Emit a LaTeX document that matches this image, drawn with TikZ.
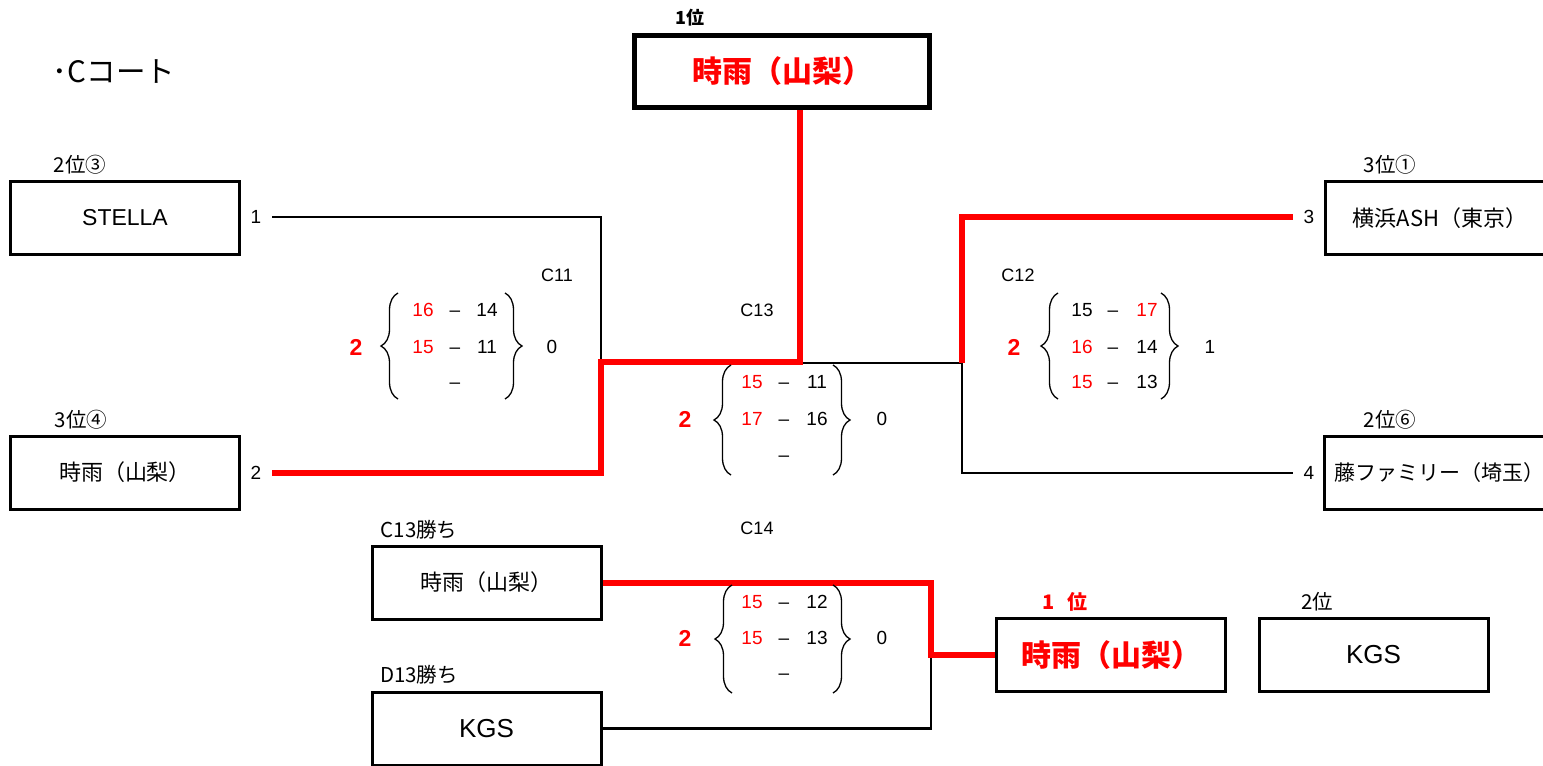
\documentclass[tikz,border=0pt]{standalone}
\usepackage{fontspec}
\setmainfont{Liberation Sans}
\newfontfamily\jpfont{Noto Sans CJK JP}
\usetikzlibrary{decorations.pathreplacing}
\newcommand{\dsh}{\vphantom{0}–}
\begin{document}
\begin{tikzpicture}[x=1pt,y=-1pt,
  team/.style={draw, line width=3pt, minimum width=229pt, minimum height=73pt, inner sep=0pt, font=\jpfont\fontsize{22}{25}\selectfont},
  bigwin/.style={team, text=red, font=\jpfont\bfseries\fontsize{30}{34}\selectfont},
  lbl/.style={inner sep=0pt, font=\jpfont\fontsize{20.5}{23}\selectfont},
  mlabel/.style={inner sep=0pt, font=\fontsize{18}{21}\selectfont},
  num/.style={inner sep=0pt, font=\fontsize{19}{22}\selectfont},
  rnum/.style={num, text=red},
  seed/.style={num, minimum width=32pt},
  wins/.style={inner sep=0pt, text=red, font=\bfseries\fontsize{23}{26}\selectfont},
  link/.style={line width=2.5pt},
  win/.style={line width=6pt, draw=red},
  brc/.style={decorate, decoration={brace, amplitude=17pt}, line width=1.3pt},
]
\useasboundingbox (0,0) rectangle (1543,766);

% title
\node[inner sep=0pt, font=\jpfont\fontsize{29.5}{32}\selectfont] (title) at (114,72) {･Cコート};

% top winner
\node[lbl, font=\jpfont\bfseries\fontsize{18}{21}\selectfont] (toplbl) at (690,18) {1位};
\node[bigwin, line width=5pt, minimum width=295pt, minimum height=72pt] (top) at (782,71.5) {時雨（山梨）};

% left teams
\node[lbl] (l1) at (80,165) {2位③};
\node[team, font=\normalfont\fontsize{23}{26}\selectfont] (stella) at (125,218) {STELLA};
\node[lbl] (l2) at (81,420) {3位④};
\node[team] (shigL) at (125,472.5) {時雨（山梨）};
\node[seed] (s1) at (256,217) {1};
\node[seed] (s2) at (256,473) {2};

% right teams
\node[lbl] (l3) at (1390,165) {3位①};
\node[team] (yoko) at (1440,218) {横浜ASH（東京）};
\node[lbl] (l4) at (1390,420) {2位⑥};
\node[team, font=\jpfont\fontsize{21}{24}\selectfont] (fuji) at (1439,472.5) {藤ファミリー（埼玉）};
\node[seed] (s3) at (1309,217) {3};
\node[seed] (s4) at (1309,473) {4};

% bottom teams
\node[lbl] (l5) at (419,530) {C13勝ち};
\node[team] (c13w) at (486.5,582.5) {時雨（山梨）};
\node[lbl] (l6) at (419,675) {D13勝ち};
\node[team, font=\normalfont\fontsize{26}{29}\selectfont] (kgs) at (486.5,728.5) {KGS};

% final ranking
\node[lbl, text=red, font=\jpfont\bfseries\fontsize{20}{23}\selectfont] (l7) at (1065,602) {1\hspace{0.6em}位};
\node[bigwin] (final) at (1111,655) {時雨（山梨）};
\node[lbl] (l8) at (1317,602) {2位};
\node[team, font=\normalfont\fontsize{26}{29}\selectfont] (second) at (1373.5,655) {KGS};

% junctions
\coordinate (j11) at (601,362);
\coordinate (j13) at (800,363);
\coordinate (j12) at (962,363);
\coordinate (j14) at (931,655);

% black connectors
\draw[link] (s1.east) -| (j11);
\draw[link] (j13) -- (j12);
\draw[link] (j12) |- (s4.west);
\draw[link] (kgs.east) -| (j14);

% red connectors
\draw[win] (s2.east) -| (j11) -| (top.south -| j13);
\draw[win] (j12) |- (s3.west);
\draw[win] (c13w.east) -| (j14) -- (final.west);

% C11
\node[mlabel] (c11) at (557,275) {C11};
\node[wins] (c11w) at (356,347) {2};
\node[num] (c11l) at (552,347) {0};
\node[rnum] (c11a1) at (423,310) {16}; \node[num] (c11d1) at (455,310) {\dsh}; \node[num] (c11b1) at (487,310) {14};
\node[rnum] (c11a2) at (423,347) {15}; \node[num] (c11d2) at (455,347) {\dsh}; \node[num] (c11b2) at (487,347) {11};
\node[num] (c11d3) at (455,382) {\dsh};
\draw[brc] (398,399) -- (398,293);
\draw[brc] (505,293) -- (505,399);

% C12
\node[mlabel] (c12) at (1018,275) {C12};
\node[wins] (c12w) at (1014,347) {2};
\node[num] (c12l) at (1210,347) {1};
\node[num] (c12a1) at (1082,310) {15}; \node[num] (c12d1) at (1113,310) {\dsh}; \node[rnum] (c12b1) at (1147,310) {17};
\node[rnum] (c12a2) at (1082,347) {16}; \node[num] (c12d2) at (1113,347) {\dsh}; \node[num] (c12b2) at (1147,347) {14};
\node[rnum] (c12a3) at (1082,382) {15}; \node[num] (c12d3) at (1113,382) {\dsh}; \node[num] (c12b3) at (1147,382) {13};
\draw[brc] (1058,399) -- (1058,293);
\draw[brc] (1161,293) -- (1161,399);

% C13
\node[mlabel] (c13) at (757,310) {C13};
\node[wins] (c13ww) at (685,419) {2};
\node[num] (c13l) at (882,419) {0};
\node[rnum] (c13a1) at (752,382) {15}; \node[num] (c13d1) at (784,382) {\dsh}; \node[num] (c13b1) at (817,382) {11};
\node[rnum] (c13a2) at (752,419) {17}; \node[num] (c13d2) at (784,419) {\dsh}; \node[num] (c13b2) at (817,419) {16};
\node[num] (c13d3) at (784,455) {\dsh};
\draw[brc] (731,475) -- (731,365);
\draw[brc] (833,365) -- (833,475);

% C14
\node[mlabel] (c14) at (757,528) {C14};
\node[wins] (c14w) at (685,638) {2};
\node[num] (c14l) at (882,638) {0};
\node[rnum] (c14a1) at (752,602) {15}; \node[num] (c14d1) at (784,602) {\dsh}; \node[num] (c14b1) at (817,602) {12};
\node[rnum] (c14a2) at (752,638) {15}; \node[num] (c14d2) at (784,638) {\dsh}; \node[num] (c14b2) at (817,638) {13};
\node[num] (c14d3) at (784,673) {\dsh};
\draw[brc] (732,693) -- (732,585);
\draw[brc] (833,585) -- (833,693);
\end{tikzpicture}
\end{document}
